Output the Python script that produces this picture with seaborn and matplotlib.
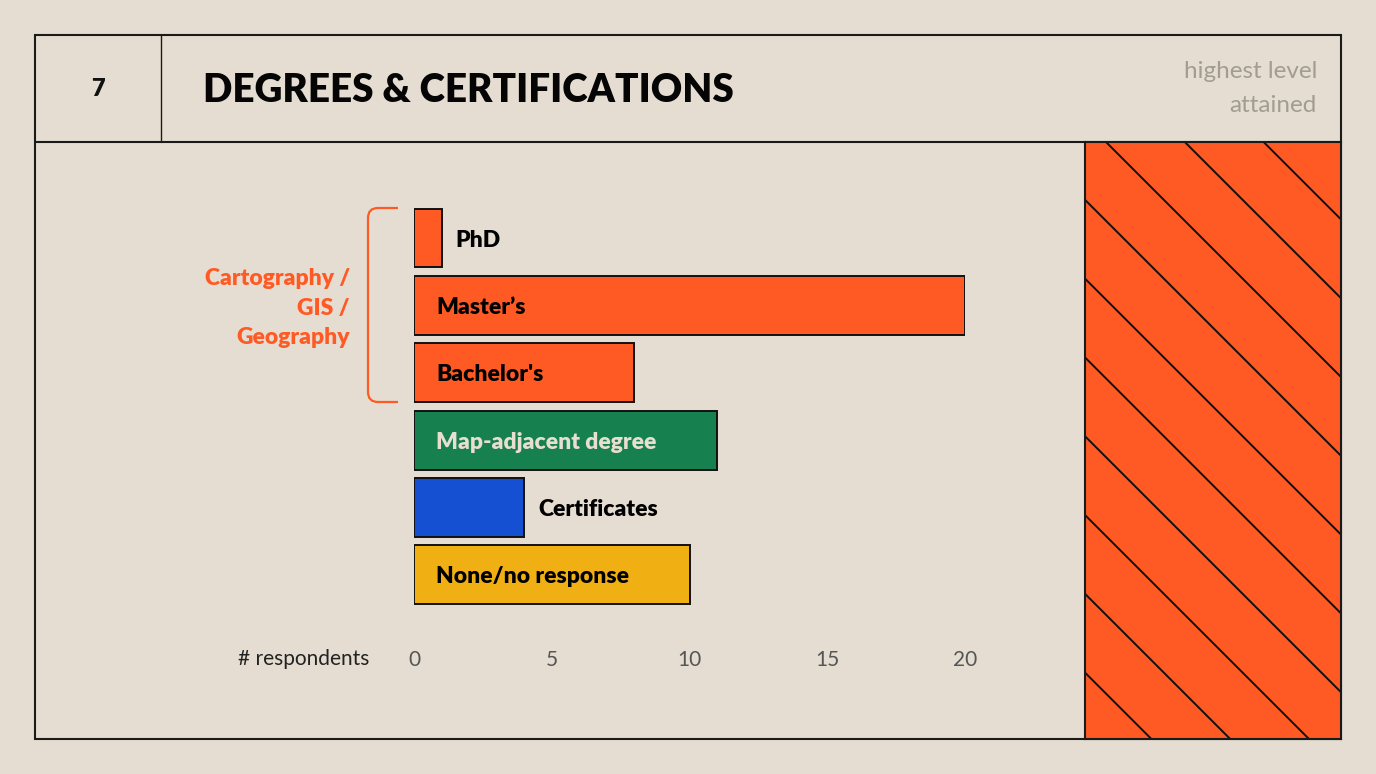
import matplotlib
matplotlib.use("Agg")
import matplotlib.pyplot as plt
import seaborn as sns
import pandas as pd
from matplotlib.patches import Rectangle
from matplotlib.path import Path
from matplotlib.patches import PathPatch

# ---- data ----
categories = ["PhD", "Master\u2019s", "Bachelor's", "Map-adjacent degree", "Certificates", "None/no response"]
values = [1, 20, 8, 11, 4, 10]
colors = ["#FF5A24", "#FF5A24", "#FF5A24", "#16804F", "#1550D2", "#F0B014"]
label_inside = [False, True, True, True, False, True]
label_colors = ["#000000", "#000000", "#000000", "#E8DFD0", "#000000", "#000000"]
xticks = [0, 5, 10, 15, 20]
group_label = "Cartography /\nGIS /\nGeography"
title = "DEGREES & CERTIFICATIONS"
page_no = "7"
subtitle_lines = ["highest level", "attained"]
x_label = "# respondents"

BG = "#E5DDD1"
ORANGE = "#FF5A24"

sns.set_theme(style="white")
plt.rcParams["font.family"] = ["Lato", "DejaVu Sans"]

W, H = 1376, 774
fig = plt.figure(figsize=(W / 100, H / 100), dpi=100, facecolor=BG)

def fx(px):
    return px / W

def fy(py):
    return 1 - py / H

# ---- main bar axes ----
ax_left, ax_right = 414, 965
ax_top, ax_bot = 204.3, 608.5
ax = fig.add_axes([fx(ax_left), fy(ax_bot), fx(ax_right - ax_left), (ax_bot - ax_top) / H])
ax.set_facecolor("none")

df = pd.DataFrame({"category": categories, "value": values})
sns.barplot(data=df, x="value", y="category", hue="category", palette=colors,
            order=categories, hue_order=categories, orient="h", width=0.875,
            edgecolor="#111111", linewidth=1.4, legend=False, ax=ax, saturation=1)

ax.set_xlim(0, 20)
ax.set_ylim(len(categories) - 0.5, -0.5)
ax.set_xticks(xticks)
ax.set_xticklabels([str(t) for t in xticks], fontsize=15, color="#555555")
ax.tick_params(axis="x", length=0, pad=30)
ax.set_yticks([])
ax.set_xlabel("")
ax.set_ylabel("")
for s in ax.spines.values():
    s.set_visible(False)

# bar labels
for i, (cat, v) in enumerate(zip(categories, values)):
    xpos = 0.8 if label_inside[i] else v + 0.5
    ax.text(xpos, i + 0.03, cat, va="center", ha="left", fontsize=16.5, fontweight="heavy",
            color=label_colors[i])

# ---- overlay axes in pixel coordinates for decorations ----
ov = fig.add_axes([0, 0, 1, 1], facecolor="none")
ov.set_xlim(0, W)
ov.set_ylim(H, 0)
ov.axis("off")
ov.set_zorder(-1)

# frame
ov.add_patch(Rectangle((35, 35), 1341 - 35, 739 - 35, fill=False, edgecolor="#1a1a1a", lw=1.5))
ov.plot([35, 1341], [142, 142], color="#1a1a1a", lw=1.5)
ov.plot([161, 161], [35, 142], color="#1a1a1a", lw=1.0)

# header texts
ov.text(98, 89, page_no, ha="center", va="center", fontsize=17, fontweight="heavy", color="#111111")
ov.text(203, 90, title, ha="left", va="center", fontsize=27.8, fontweight="heavy", color="#050505")
for line, yy in zip(subtitle_lines, [72, 106]):
    ov.text(1317, yy, line, ha="right", va="center", fontsize=17.5, color="#A29C92")

# x label
ov.text(369, 659, x_label, ha="right", va="center", fontsize=15, color="#222222")

# bracket
r = 10
verts = [(398, 208), (368 + r, 208), (368, 208), (368, 208 + r), (368, 402 - r),
         (368, 402), (368 + r, 402), (398, 402)]
codes = [Path.MOVETO, Path.LINETO, Path.CURVE3, Path.CURVE3, Path.LINETO,
         Path.CURVE3, Path.CURVE3, Path.LINETO]
ov.add_patch(PathPatch(Path(verts, codes), fill=False, edgecolor=ORANGE, lw=1.6))
ov.text(350, 308, group_label, ha="right", va="center", fontsize=16.5, fontweight="heavy",
        color=ORANGE, linespacing=1.5, multialignment="right")

# hatched panel
px0, py0, px1, py1 = 1085, 142, 1341, 739
pw, ph = px1 - px0, py1 - py0
pan = fig.add_axes([fx(px0), fy(py1), fx(pw), ph / H])
pan.set_facecolor(ORANGE)
pan.set_xlim(0, pw)
pan.set_ylim(ph, 0)
pan.set_xticks([])
pan.set_yticks([])
for s in pan.spines.values():
    s.set_color("#1a1a1a")
    s.set_linewidth(1.5)
spacing = 78.8
for k in range(-12, 5):
    c = 21 + k * spacing
    pan.plot([c, c + 1000], [0, 1000], color="#111111", lw=1.4)

fig.savefig("out.png", dpi=100, facecolor=BG)
